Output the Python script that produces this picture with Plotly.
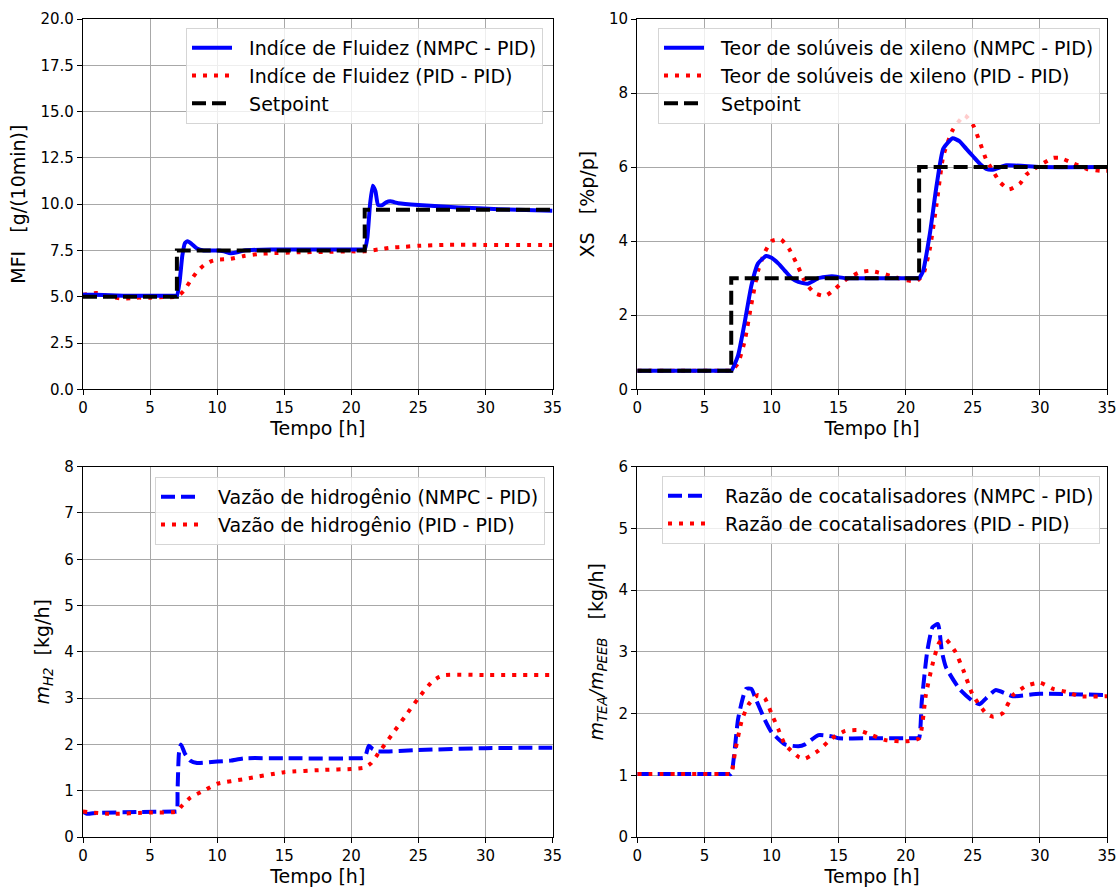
import plotly.graph_objects as go
from plotly.subplots import make_subplots

# ---------------- data ----------------
# Panel 1: MFI
t_mfi_nmpc = [0, 1, 3, 5, 6.8, 7, 7.2, 7.4, 7.6, 7.8, 8.1, 8.5, 9, 10, 10.5, 11, 11.5, 12, 14, 17, 20, 20.8, 21, 21.2, 21.4, 21.6, 21.8, 22.0, 22.3, 22.6, 22.9, 23.5, 25, 28, 31, 35]
mfi_nmpc = [5.1, 5.1, 5.05, 5.05, 5.05, 5.05, 5.8, 7.2, 7.9, 8.0, 7.85, 7.6, 7.5, 7.5, 7.45, 7.35, 7.4, 7.5, 7.55, 7.55, 7.55, 7.55, 7.55, 8.2, 10.0, 11.0, 10.7, 9.95, 9.95, 10.1, 10.15, 10.05, 9.95, 9.82, 9.73, 9.65]
t_mfi_pid = [0, 1, 2, 3, 4, 5, 6, 7, 7.5, 8, 8.5, 9, 9.5, 10, 11, 12, 13, 14, 16, 18, 20, 21, 22, 23, 24, 25, 27, 30, 35]
mfi_pid = [5.1, 5.2, 5.0, 4.9, 4.95, 4.95, 4.98, 5.0, 5.3, 5.85, 6.35, 6.7, 6.9, 7.0, 7.05, 7.2, 7.3, 7.35, 7.4, 7.42, 7.45, 7.45, 7.55, 7.65, 7.7, 7.75, 7.8, 7.8, 7.8]
t_sp_mfi = [0, 7, 21, 35]
sp_mfi = [5.0, 7.5, 9.7, 9.7]

# Panel 2: XS
t_xs_nmpc = [0, 3, 6.8, 7, 7.5, 8, 8.5, 9, 9.6, 10, 10.5, 11, 11.5, 12, 12.7, 13.5, 14.5, 15.5, 17, 20, 20.8, 21, 21.3, 21.8, 22.3, 22.8, 23.5, 24, 24.5, 25, 25.5, 26, 26.5, 27.5, 30, 35]
xs_nmpc = [0.5, 0.5, 0.5, 0.5, 0.9, 1.8, 2.8, 3.4, 3.6, 3.55, 3.4, 3.2, 3.0, 2.9, 2.85, 3.0, 3.05, 3.0, 3.0, 3.0, 3.0, 3.0, 3.2, 4.2, 5.5, 6.5, 6.78, 6.7, 6.5, 6.3, 6.1, 5.95, 5.93, 6.05, 6.0, 6.0]
t_xs_pid = [0, 3, 6.8, 7, 7.5, 8, 8.5, 9, 9.5, 10, 10.7, 11.3, 12, 12.5, 13.2, 14, 14.7, 15.5, 16.5, 17.3, 18, 19, 20, 20.8, 21.3, 21.8, 22.3, 22.8, 23.5, 24.4, 25, 25.5, 26, 26.5, 27, 27.7, 28.5, 29, 30, 31, 31.5, 32.5, 33.5, 34.5, 35]
xs_pid = [0.5, 0.5, 0.5, 0.5, 0.7, 1.3, 2.3, 3.2, 3.7, 4.0, 4.05, 3.8, 3.3, 2.9, 2.6, 2.52, 2.7, 2.95, 3.15, 3.2, 3.15, 3.05, 2.95, 2.92, 3.1, 3.8, 5.0, 6.3, 7.0, 7.4, 7.15, 6.7, 6.2, 5.9, 5.6, 5.4, 5.55, 5.8, 6.05, 6.25, 6.25, 6.1, 5.95, 5.9, 5.9]
t_sp_xs = [0, 7, 21, 35]
sp_xs = [0.5, 3.0, 6.0, 6.0]

# Panel 3: hydrogen flow
t_h2_nmpc = [0, 0.3, 1, 4, 6.8, 7, 7.05, 7.15, 7.3, 7.6, 8.0, 8.5, 10, 11, 12, 15, 20, 21, 21.3, 21.6, 22, 25, 30, 35]
h2_nmpc = [0.55, 0.5, 0.52, 0.54, 0.55, 0.55, 1.0, 1.8, 2.0, 1.8, 1.65, 1.6, 1.63, 1.65, 1.7, 1.7, 1.7, 1.72, 1.97, 1.9, 1.85, 1.88, 1.92, 1.93]
t_h2_pid = [0, 2, 5, 7, 7.3, 8, 9, 10, 12, 15, 18, 20, 21, 21.5, 22, 23, 24, 25, 26, 26.5, 27, 30, 35]
h2_pid = [0.55, 0.5, 0.53, 0.55, 0.65, 0.85, 1.0, 1.15, 1.25, 1.4, 1.45, 1.47, 1.5, 1.6, 1.8, 2.2, 2.6, 3.0, 3.35, 3.45, 3.5, 3.5, 3.5]

# Panel 4: cocatalyst ratio
t_r_nmpc = [0, 3, 6.8, 7, 7.2, 7.5, 7.8, 8.1, 8.5, 8.8, 9.5, 10, 11, 12, 12.5, 13.5, 14.5, 15, 17, 20, 20.8, 21, 21.2, 21.6, 22, 22.4, 22.7, 23, 24, 25, 25.5, 26, 26.7, 27.5, 28, 30, 35]
r_nmpc = [1.02, 1.02, 1.02, 1.02, 1.3, 1.9, 2.2, 2.4, 2.4, 2.25, 1.9, 1.7, 1.5, 1.47, 1.5, 1.65, 1.63, 1.6, 1.6, 1.6, 1.6, 1.6, 2.2, 3.0, 3.4, 3.45, 3.0, 2.75, 2.4, 2.2, 2.15, 2.25, 2.38, 2.32, 2.28, 2.32, 2.3]
t_r_pid = [0, 3, 6.8, 7, 7.3, 7.8, 8.3, 9, 9.5, 10, 10.5, 11, 12, 12.5, 13.5, 14.5, 15.5, 16.5, 17.5, 18.5, 20, 21, 21.5, 22, 22.5, 23, 23.7, 24.3, 25, 26, 26.5, 27.2, 28, 29, 30, 31, 32, 33, 35]
r_pid = [1.02, 1.02, 1.02, 1.02, 1.4, 1.9, 2.15, 2.3, 2.25, 2.0, 1.75, 1.5, 1.3, 1.27, 1.4, 1.6, 1.72, 1.73, 1.65, 1.57, 1.55, 1.6, 2.3, 2.8, 3.15, 3.2, 3.0, 2.7, 2.3, 2.0, 1.95, 2.0, 2.3, 2.45, 2.5, 2.4, 2.35, 2.28, 2.28]

# ---------------- figure ----------------
FONT = "DejaVu Sans"
BLUE = "#0000ff"
RED = "#ff0000"
DOT = "4px,7px"
DASH = "14px,6px"
SM = 0.5
PAD = "\u00a0\u00a0"

fig = make_subplots(rows=2, cols=2)

def add(x, y, name, color, dash, row, col, legend, shape="spline", rank=1):
    line = dict(color=color, width=4, dash=dash)
    if shape == "spline":
        line["shape"] = "spline"
        line["smoothing"] = SM
    else:
        line["shape"] = shape
    fig.add_trace(go.Scatter(x=x, y=y, mode="lines", name=PAD + name, line=line,
                             legend=legend, legendgroup=name, legendrank=rank), row=row, col=col)

add(t_mfi_pid, mfi_pid, "Indíce de Fluidez (PID - PID)", RED, DOT, 1, 1, "legend", rank=2)
add(t_mfi_nmpc, mfi_nmpc, "Indíce de Fluidez (NMPC - PID)", BLUE, "solid", 1, 1, "legend", rank=1)
add(t_sp_mfi, sp_mfi, "Setpoint", "black", DASH, 1, 1, "legend", shape="hv", rank=3)

add(t_xs_pid, xs_pid, "Teor de solúveis de xileno (PID - PID)", RED, DOT, 1, 2, "legend2", rank=2)
add(t_xs_nmpc, xs_nmpc, "Teor de solúveis de xileno (NMPC - PID)", BLUE, "solid", 1, 2, "legend2", rank=1)
add(t_sp_xs, sp_xs, "Setpoint", "black", DASH, 1, 2, "legend2", shape="hv", rank=3)

add(t_h2_nmpc, h2_nmpc, "Vazão de hidrogênio (NMPC - PID)", BLUE, DASH, 2, 1, "legend3", rank=1)
add(t_h2_pid, h2_pid, "Vazão de hidrogênio (PID - PID)", RED, DOT, 2, 1, "legend3", rank=2)

add(t_r_nmpc, r_nmpc, "Razão de cocatalisadores (NMPC - PID)", BLUE, DASH, 2, 2, "legend4", rank=1)
add(t_r_pid, r_pid, "Razão de cocatalisadores (PID - PID)", RED, DOT, 2, 2, "legend4", rank=2)

W, H = 1118, 888
xd = [[83 / W, 552.5 / W], [637.3 / W, 1107 / W]]
yd = [[1 - 389.3 / H, 1 - 19 / H], [1 - 837 / H, 1 - 466.7 / H]]

axcommon = dict(showline=True, linecolor="black", linewidth=1.3, mirror=True,
                ticks="outside", ticklen=5, tickwidth=1.2, tickcolor="black",
                showgrid=True, gridcolor="#a8a8a8", gridwidth=1.2, zeroline=False,
                automargin=False,
                tickfont=dict(family=FONT, size=15, color="black"))

yinfo = {
    (1, 1): dict(range=[0, 20], dtick=2.5, tickformat=".1f", title="MFI   [g/(10min)]"),
    (1, 2): dict(range=[0, 10], dtick=2, tickformat="d", title="XS   [%p/p]"),
    (2, 1): dict(range=[0, 8], dtick=1, tickformat="d", title="<i>m<sub>H2</sub></i>  [kg/h]"),
    (2, 2): dict(range=[0, 6], dtick=1, tickformat="d", title="<i>m<sub>TEA</sub>/m<sub>PEEB</sub></i>   [kg/h]"),
}

for r in (1, 2):
    for c in (1, 2):
        info = yinfo[(r, c)]
        fig.update_xaxes(axcommon, range=[0, 35], dtick=5, domain=xd[c - 1],
                         title=dict(text="Tempo [h]", font=dict(family=FONT, size=19, color="black"), standoff=4),
                         row=r, col=c)
        fig.update_yaxes(axcommon, range=info["range"], dtick=info["dtick"], tickformat=info["tickformat"],
                         domain=yd[r - 1],
                         title=dict(text=info["title"], font=dict(family=FONT, size=19, color="black"), standoff=9),
                         row=r, col=c)

legcommon = dict(bgcolor="rgba(255,255,255,0.8)", bordercolor="#d5d5d5", borderwidth=1,
                 font=dict(family=FONT, size=19, color="black"), xanchor="right", yanchor="top",
                 tracegroupgap=0, itemwidth=40)
fig.update_layout(
    width=W, height=H, margin=dict(l=0, r=0, t=0, b=0, autoexpand=False),
    paper_bgcolor="white", plot_bgcolor="white",
    font=dict(family=FONT, color="black"),
    legend=dict(legcommon, x=543 / W, y=1 - 28 / H),
    legend2=dict(legcommon, x=1100 / W, y=1 - 28 / H),
    legend3=dict(legcommon, x=545 / W, y=1 - 477 / H),
    legend4=dict(legcommon, x=1100 / W, y=1 - 476 / H),
)

fig.write_html("out.html", config={"displayModeBar": False},
               post_script="document.body.style.margin='0';document.body.style.overflow='hidden';")
